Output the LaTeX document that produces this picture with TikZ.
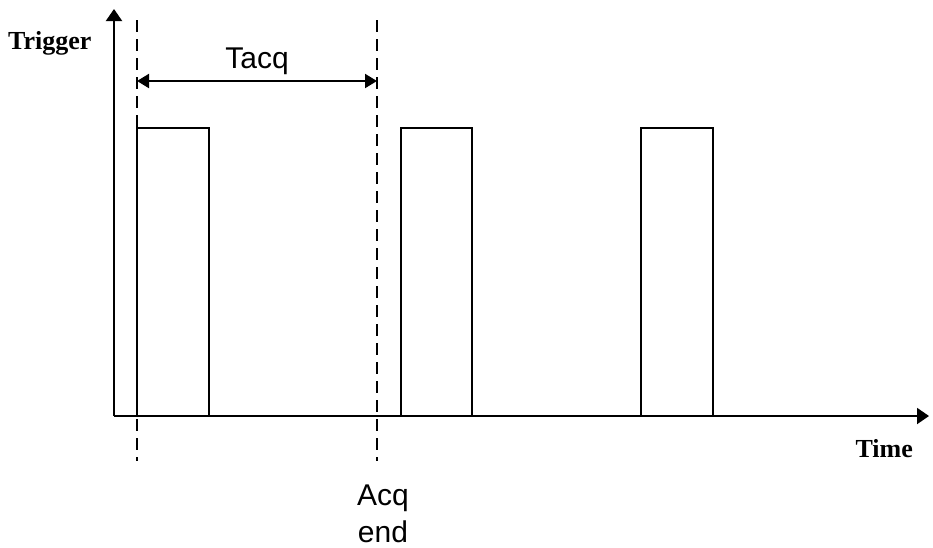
\documentclass[tikz,border=0pt]{standalone}
\usepackage{fontspec}
\setmainfont{Liberation Sans}
\newfontfamily\serifb{Liberation Serif}
\usetikzlibrary{arrows.meta}
\begin{document}
\begin{tikzpicture}[x=1pt,y=-1pt,
  axis/.style={line width=2pt,-{Triangle[length=12pt,width=16pt]}},
  pulse/.style={line width=1.8pt},
  guide/.style={line width=1.6pt,dash pattern=on 12pt off 7pt},
  span/.style={line width=2pt,{Triangle[length=12pt,width=14pt]}-{Triangle[length=12pt,width=14pt]}},
  lbl/.style={font=\serifb\bfseries\fontsize{26}{30}\selectfont,inner sep=0pt},
  sans/.style={font=\fontsize{30}{36}\selectfont,inner sep=0pt,align=center}]
\useasboundingbox (0,0) rectangle (933,547);
% axes
\coordinate (O) at (114,416);
\coordinate (Ytop) at (114,9);
\coordinate (Xend) at (929,416);
\draw[axis] (O) -- (Ytop);
\draw[axis] (O) -- (Xend);
% pulses
\draw[pulse] (137,416) |- (209,128) -- (209,416);
\draw[pulse] (401,416) |- (472,128) -- (472,416);
\draw[pulse] (641,416) |- (713,128) -- (713,416);
% dashed guides
\coordinate (d1t) at (137,20);
\coordinate (d1b) at (137,461);
\coordinate (d2t) at (377,20);
\coordinate (d2b) at (377,461);
\draw[guide] (d1t) -- (d1b);
\draw[guide] (d2t) -- (d2b);
% span
\coordinate (s1) at (137,81);
\coordinate (s2) at (377,81);
\draw[span] (s1) -- (s2);
\node[sans,anchor=base] (tacq) at (257,68) {Tacq};
% labels
\node[lbl,anchor=base west] (trig) at (8,49) {Trigger};
\node[lbl,anchor=base east] (time) at (913,457) {Time};
\node[sans,anchor=base] (acq) at (383,505) {Acq};
\node[sans,anchor=base] (end) at (383,542) {end};
\end{tikzpicture}
\end{document}
